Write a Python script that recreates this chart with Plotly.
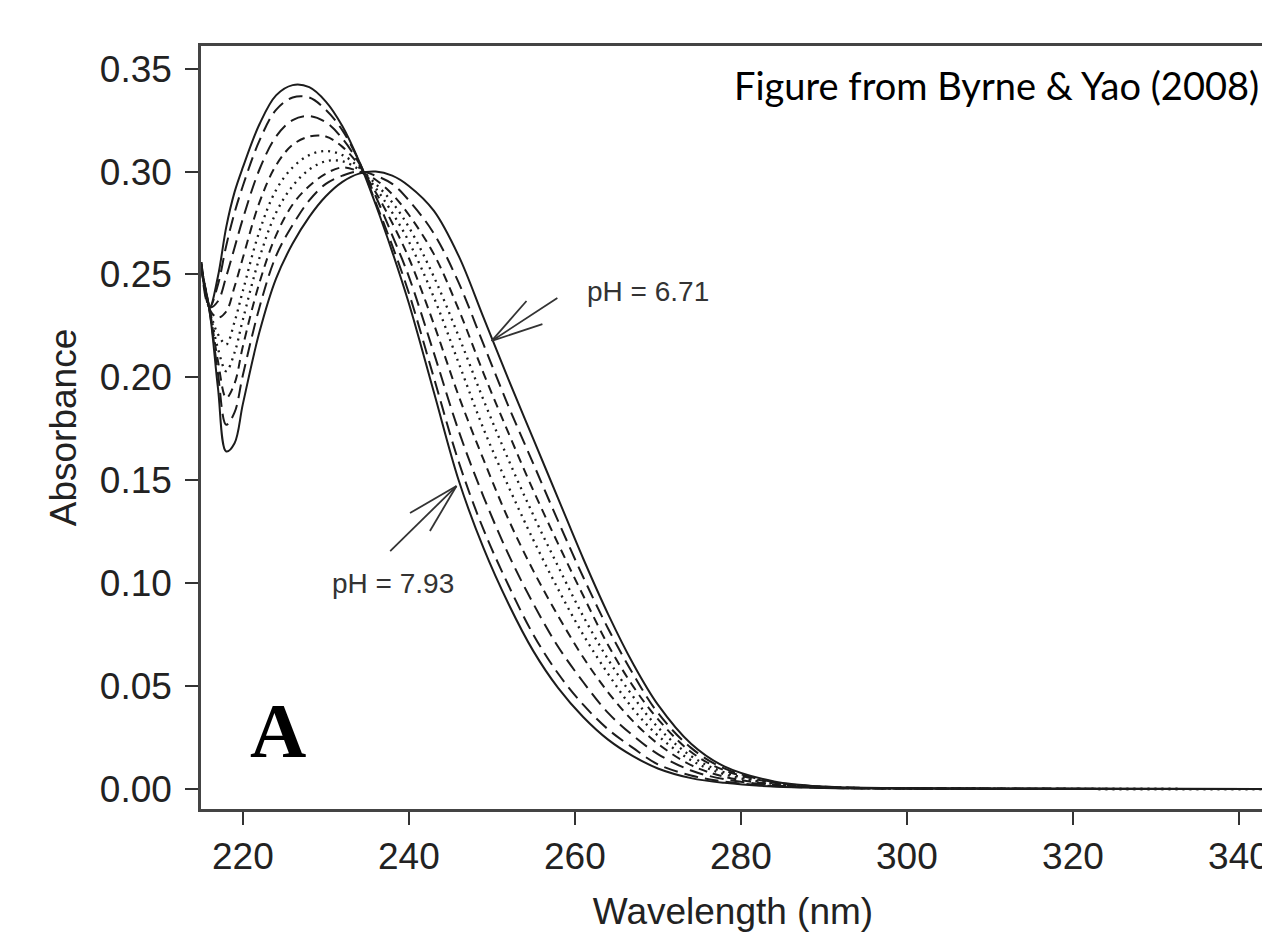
import plotly.graph_objects as go

# Wavelength grid (nm) shared by all the spectra
wavelength = [215, 216, 217, 218, 219, 220, 222, 224, 226, 228, 230, 232, 234, 236,
              238, 240, 243, 246, 249, 252, 255, 258, 261, 264, 267, 270, 274, 278,
              284, 290, 300, 345]

# Absorbance spectra, from pH = 7.93 (first) to pH = 6.71 (last)
spec_1 = [0.256, 0.234, 0.249, 0.273, 0.290, 0.302, 0.323, 0.337, 0.342, 0.341, 0.334, 0.322,
          0.305, 0.284, 0.261, 0.236, 0.193, 0.150, 0.117, 0.090, 0.067, 0.049, 0.035, 0.024,
          0.016, 0.010, 0.0053, 0.0030, 0.0012, 0.0005, 0.0002, 0.0]
spec_2 = [0.256, 0.234, 0.245, 0.264, 0.280, 0.293, 0.315, 0.330, 0.336, 0.336, 0.330, 0.320,
          0.305, 0.285, 0.264, 0.241, 0.200, 0.159, 0.126, 0.099, 0.075, 0.056, 0.041, 0.029,
          0.020, 0.012, 0.0066, 0.0036, 0.0014, 0.0006, 0.0002, 0.0]
spec_3 = [0.255, 0.234, 0.237, 0.249, 0.263, 0.277, 0.301, 0.317, 0.325, 0.327, 0.324, 0.316,
          0.304, 0.288, 0.269, 0.249, 0.212, 0.174, 0.142, 0.114, 0.090, 0.069, 0.052, 0.037,
          0.026, 0.017, 0.0090, 0.0048, 0.0018, 0.0007, 0.0002, 0.0]
spec_4 = [0.255, 0.233, 0.229, 0.232, 0.244, 0.258, 0.285, 0.303, 0.313, 0.317, 0.317, 0.312,
          0.303, 0.290, 0.275, 0.258, 0.226, 0.191, 0.160, 0.131, 0.106, 0.084, 0.064, 0.047,
          0.033, 0.022, 0.0116, 0.0060, 0.0022, 0.0008, 0.0003, 0.0]
spec_5 = [0.254, 0.233, 0.221, 0.216, 0.227, 0.242, 0.271, 0.291, 0.302, 0.308, 0.310, 0.308,
          0.302, 0.292, 0.280, 0.266, 0.239, 0.207, 0.175, 0.147, 0.121, 0.097, 0.075, 0.056,
          0.039, 0.026, 0.0140, 0.0072, 0.0025, 0.0009, 0.0003, 0.0]
spec_6 = [0.253, 0.233, 0.214, 0.203, 0.212, 0.228, 0.258, 0.280, 0.293, 0.301, 0.305, 0.305,
          0.301, 0.294, 0.285, 0.273, 0.249, 0.220, 0.189, 0.160, 0.133, 0.108, 0.084, 0.063,
          0.045, 0.030, 0.0160, 0.0081, 0.0028, 0.0009, 0.0003, 0.0]
spec_7 = [0.253, 0.233, 0.208, 0.190, 0.197, 0.215, 0.246, 0.269, 0.284, 0.293, 0.299, 0.302,
          0.300, 0.296, 0.289, 0.279, 0.260, 0.233, 0.202, 0.173, 0.145, 0.119, 0.094, 0.070,
          0.050, 0.034, 0.0180, 0.0091, 0.0031, 0.0010, 0.0004, 0.0]
spec_8 = [0.253, 0.232, 0.202, 0.177, 0.183, 0.201, 0.234, 0.259, 0.274, 0.286, 0.294, 0.298,
          0.300, 0.298, 0.294, 0.286, 0.270, 0.246, 0.216, 0.186, 0.158, 0.130, 0.103, 0.078,
          0.056, 0.037, 0.0200, 0.0100, 0.0034, 0.0011, 0.0004, 0.0]
spec_9 = [0.252, 0.232, 0.195, 0.164, 0.168, 0.187, 0.222, 0.248, 0.265, 0.278, 0.288, 0.295,
          0.299, 0.300, 0.298, 0.293, 0.281, 0.259, 0.229, 0.199, 0.170, 0.141, 0.112, 0.085,
          0.061, 0.041, 0.0220, 0.0110, 0.0037, 0.0012, 0.0004, 0.0]

spectra = [spec_1, spec_2, spec_3, spec_4, spec_5, spec_6, spec_7, spec_8, spec_9]
dashes = ['solid', '14px,7px', '14px,7px', '9px,6px', '2px,5px', '2px,5px',
          '9px,6px', '14px,7px', 'solid']

fig = go.Figure()

for spec, dash in zip(spectra, dashes):
    width = 2.3 if dash.startswith('2px') else 2
    fig.add_trace(go.Scatter(
        x=wavelength, y=spec,
        mode='lines',
        line=dict(color='#1c1c1c', width=width, dash=dash, shape='spline', smoothing=1.0),
        showlegend=False,
        hoverinfo='skip'))

# open arrow heads pointing at the two extreme spectra
arrows = [
    # pH 6.71
    ((257.89, 0.2386), (249.98, 0.2177)),
    ((254.17, 0.2371), (249.98, 0.2177)),
    ((256.09, 0.2259), (249.98, 0.2177)),
    # pH 7.93
    ((237.75, 0.1156), (245.74, 0.1472)),
    ((240.14, 0.1341), (245.74, 0.1472)),
    ((242.54, 0.1254), (245.74, 0.1472)),
]
for (x0, y0), (x1, y1) in arrows:
    fig.add_shape(type='line', xref='x', yref='y', x0=x0, y0=y0, x1=x1, y1=y1,
                  line=dict(color='#333333', width=1.8))

axis_font = dict(family='Liberation Sans, Arial, sans-serif', size=37, color='#222222')
label_font = dict(family='Liberation Sans, Arial, sans-serif', size=28, color='#333333')

fig.update_xaxes(
    range=[214.96, 343.14],
    tick0=220, dtick=20,
    ticks='outside', ticklen=13, tickwidth=2, tickcolor='#333333',
    showline=True, linewidth=2.5, linecolor='#444444', mirror=True,
    showgrid=False, zeroline=False,
    tickfont=axis_font, ticklabeloverflow='allow',
    title=dict(text='Wavelength (nm)', font=axis_font, standoff=22))

fig.update_yaxes(
    range=[-0.0097, 0.361],
    tickvals=[0, 0.05, 0.10, 0.15, 0.20, 0.25, 0.30, 0.35],
    tickformat='.2f',
    ticks='outside', ticklen=13, tickwidth=2, tickcolor='#333333',
    showline=True, linewidth=2.5, linecolor='#444444',
    showgrid=False, zeroline=False,
    tickfont=axis_font, ticklabelstandoff=6,
    title=dict(text='Absorbance', font=axis_font, standoff=12))

fig.update_layout(
    width=1262, height=924,
    margin=dict(l=193, r=0, t=38, b=123),
    paper_bgcolor='white', plot_bgcolor='white',
    annotations=[
        dict(text='pH = 6.71', x=268.8, y=0.2415, xref='x', yref='y', showarrow=False,
             font=label_font),
        dict(text='pH = 7.93', x=238.1, y=0.1001, xref='x', yref='y', showarrow=False,
             font=label_font),
        dict(text='<b>A</b>', x=224.2, y=0.0282, xref='x', yref='y', showarrow=False,
             font=dict(family='Liberation Serif, serif', size=78, color='black')),
        # source note, placed in paper space near the top edge
        dict(text='Figure from Byrne & Yao (2008)', x=(733 - 200) / 1069, y=1 - (84 - 45) / 763,
             xref='paper', yref='paper', xanchor='left', yanchor='middle', showarrow=False,
             font=dict(family='Lato, Noto Sans, sans-serif', size=38, color='black')),
    ])

fig.write_html('out.html')
